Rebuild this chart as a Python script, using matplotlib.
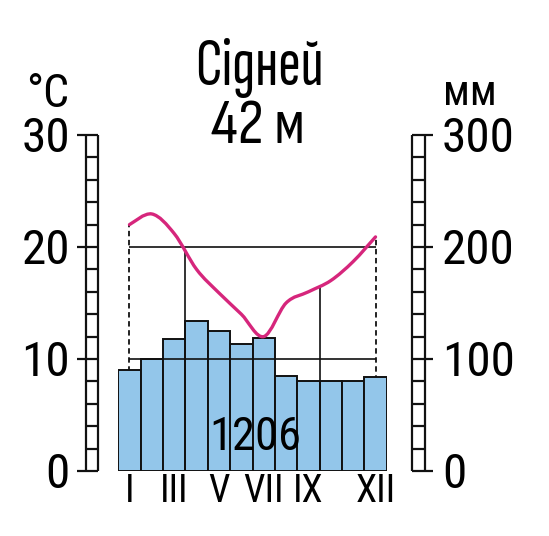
import numpy as np
import matplotlib
matplotlib.use("Agg")
import matplotlib.pyplot as plt
from matplotlib.path import Path
from matplotlib.patches import PathPatch
import matplotlib.transforms as mtransforms

plt.rcParams['font.family'] = ['Roboto Condensed', 'DejaVu Sans']

# data (Sydney, 42 m)
months = np.arange(1, 13)
temp_c = [22.0, 22.95, 21.2, 18.0, 15.9, 14.0, 12.0, 15.0, 16.0, 17.0, 18.7, 20.9]
precip_mm = [90, 100, 118, 134, 125, 113, 119, 85, 80, 80, 80, 84]
month_labels = ['I', 'III', 'V', 'VII', 'IX', 'XII']
month_label_pos = [1, 3, 5, 7, 9, 12]
t_ticks = [0, 10, 20, 30]
p_ticks = [0, 100, 200, 300]
title = "Сідней"
elevation = "42 м"
total_precip = "1206"

BAR = "#93c6ea"
CURVE = "#d6267c"
INK = "#111111"
TITLE_FONT = ['Sofia Sans Extra Condensed', 'Roboto Condensed', 'DejaVu Sans']
ELEV_FONT = ['Sofia Sans Condensed', 'Roboto Condensed', 'DejaVu Sans']

fig = plt.figure(figsize=(5.49, 5.36), dpi=100)
W, H = 549, 536
x0, x1, y0, y1 = 118.3, 386.7, 471, 135
ax_p = fig.add_axes([x0 / W, 1 - y0 / H, (x1 - x0) / W, (y0 - y1) / H])
ax = ax_p.twinx()
ax.set_zorder(ax_p.get_zorder() + 1)
ax.patch.set_visible(False)
for a in (ax, ax_p):
    a.set_xlim(0, 12)
    a.axis("off")
ax.set_ylim(0, 30)
ax_p.set_ylim(0, 300)

xc = months - 0.5

# precipitation bars
ax_p.bar(xc, precip_mm, width=1.0, color=BAR, edgecolor=INK, linewidth=1.4, zorder=2)

# dashed verticals at Jan and Dec, hidden behind bars
blend = mtransforms.blended_transform_factory(ax_p.transData, ax.transData)
for i in (0, 11):
    ax_p.plot([xc[i], xc[i]], [0, temp_c[i]], ls=(0, (3, 2)), color=INK, lw=1.3,
              transform=blend, zorder=1)

# reference lines at 10 and 20 C
ax.hlines([10, 20], xc[0], xc[-1], color=INK, lw=1.2, zorder=3)
# solid verticals at Mar/Apr and Sep/Oct boundaries
for b in (3, 9):
    ax.vlines(b, 0, (temp_c[b - 1] + temp_c[b]) / 2, color=INK, lw=1.2, zorder=3)

# smooth temperature curve (Catmull-Rom through monthly values)
pts = np.column_stack([xc, temp_c])
verts = [pts[0]]
codes = [Path.MOVETO]
n = len(pts)
for i in range(n - 1):
    p0 = pts[max(i - 1, 0)]
    p1 = pts[i]
    p2 = pts[i + 1]
    p3 = pts[min(i + 2, n - 1)]
    verts += [p1 + (p2 - p0) / 6, p2 - (p3 - p1) / 6, p2]
    codes += [Path.CURVE4] * 3
ax.add_patch(PathPatch(Path(verts, codes), fill=False, edgecolor=CURVE,
                       lw=2.4, capstyle='round', zorder=5))

# rulers
def px(v):
    return (v - x0) / ((x1 - x0) / 12)

lx0, lx1, ltk = px(86), px(98.3), px(76.7)
ax.vlines([lx0, lx1], 0, 30, color=INK, lw=1.6, clip_on=False)
ax.hlines(np.arange(0, 31, 2), lx0, lx1, color=INK, lw=1.6, clip_on=False)
ax.hlines(t_ticks, ltk, lx0, color=INK, lw=1.6, clip_on=False)

rx0, rx1, rtk = px(411.7), px(425), px(433)
ax_p.vlines([rx0, rx1], 0, 300, color=INK, lw=1.6, clip_on=False)
ax_p.hlines(np.arange(0, 301, 20), rx0, rx1, color=INK, lw=1.6, clip_on=False)
ax_p.hlines(p_ticks, rx1, rtk, color=INK, lw=1.6, clip_on=False)

# tick labels
lab_t = mtransforms.offset_copy(ax.transData, fig=fig, y=-17.5, units='dots')
for t in t_ticks:
    ax.text(px(70), t, str(t), ha='right', va='baseline', fontsize=35.5,
            transform=lab_t, clip_on=False)
lab_p = mtransforms.offset_copy(ax_p.transData, fig=fig, y=-17.5, units='dots')
for p in p_ticks:
    ax_p.text(px(442), p, str(p), ha='left', va='baseline', fontsize=35.5,
              transform=lab_p, clip_on=False)

mon_tr = mtransforms.offset_copy(ax.transData, fig=fig, y=-31, units='dots')
for lab, m in zip(month_labels, month_label_pos):
    ax.text(m - 0.5, 0, lab, ha='center', va='baseline', fontsize=27.5,
            transform=mon_tr, clip_on=False)

ax.text(px(255), 1.875, total_precip, ha='center', va='baseline', fontsize=33.5, zorder=6)

fig.text(259 / W, 1 - 85 / H, title, ha='center', va='baseline', fontsize=49,
         family=TITLE_FONT)
fig.text(258 / W, 1 - 143 / H, elevation, ha='center', va='baseline', fontsize=46,
         family=ELEV_FONT)
fig.text(48 / W, 1 - 107 / H, "°C", ha='center', va='baseline', fontsize=33)
fig.text(470 / W, 1 - 105 / H, "мм", ha='center', va='baseline', fontsize=30)

fig.savefig("out.png", dpi=100)
